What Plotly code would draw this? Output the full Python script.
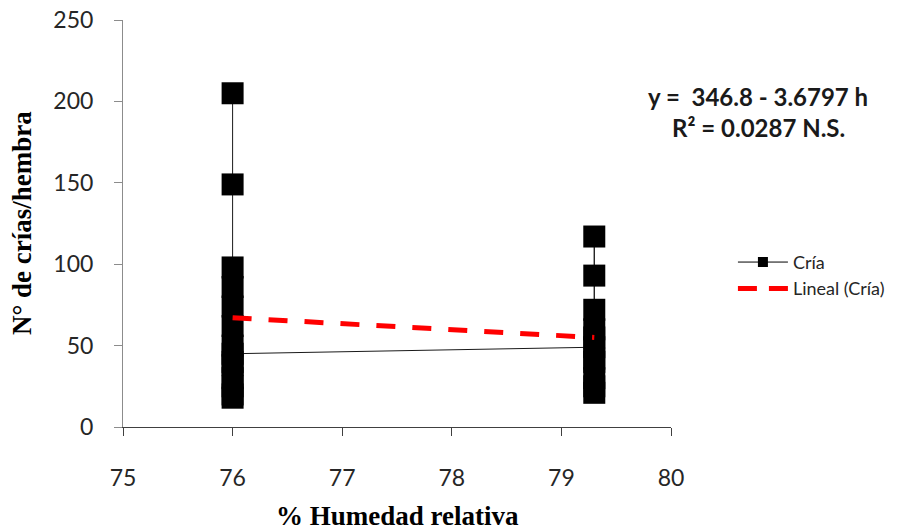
import plotly.graph_objects as go

# ---- data ----
humedad = [76, 76, 76, 76, 76, 76, 76, 76, 76, 76, 76, 76, 76, 76,
           79.3, 79.3, 79.3, 79.3, 79.3, 79.3, 79.3, 79.3, 79.3, 79.3, 79.3]
crias = [205, 149, 98, 86, 74, 62, 50, 40, 30, 20, 18, 25, 38, 45,
         49, 60, 72, 93, 117, 55, 40, 30, 21, 25, 42]

trend_intercept = 346.8
trend_slope = -3.6797
trend_x = [76, 79.3]
trend_y = [trend_intercept + trend_slope * h for h in trend_x]

x_ticks = [75, 76, 77, 78, 79, 80]
y_ticks = [0, 50, 100, 150, 200, 250]

TICK_FONT = dict(family="Lato, Carlito, sans-serif", size=23, color="#262626")

fig = go.Figure()

fig.add_trace(go.Scatter(
    x=humedad, y=crias, mode="lines+markers", name="Cría",
    line=dict(color="#1a1a1a", width=1),
    marker=dict(symbol="square", size=22, color="#000000"),
    showlegend=False,
))

fig.add_trace(go.Scatter(
    x=trend_x, y=trend_y, mode="lines", name="Lineal (Cría)",
    line=dict(color="#ff0000", width=5, dash="19px,17px"),
    showlegend=False,
))

# legend-only entries (smaller symbol like the reference legend)
fig.add_trace(go.Scatter(
    x=[None], y=[None], mode="lines+markers", name="Cría",
    line=dict(color="#000000", width=1),
    marker=dict(symbol="square", size=10, color="#000000"),
))
fig.add_trace(go.Scatter(
    x=[None], y=[None], mode="lines", name="Lineal (Cría)",
    line=dict(color="#ff0000", width=5, dash="19px,12px"),
))

fig.update_layout(
    width=898, height=532,
    margin=dict(l=115, r=235, t=12, b=113, autoexpand=False),
    paper_bgcolor="white", plot_bgcolor="white",
    showlegend=True,
    legend=dict(x=1.113, y=0.45, xanchor="left", yanchor="top",
                xref="paper", yref="paper",
                itemwidth=50,
                font=dict(family="Lato, Carlito, sans-serif", size=18, color="#262626"),
                bgcolor="rgba(0,0,0,0)", tracegroupgap=0),
    xaxis=dict(range=[75, 80], tickvals=x_ticks, ticktext=[str(v) for v in x_ticks],
               showgrid=False, zeroline=False, showline=True, linecolor="#404040",
               linewidth=1, ticks="outside", ticklen=8, tickcolor="#404040",
               tickfont=TICK_FONT, ticklabelstandoff=22, automargin=False,
               ticklabeloverflow="allow"),
    yaxis=dict(range=[0, 250], tickvals=y_ticks, ticktext=[str(v) for v in y_ticks],
               showgrid=False, zeroline=False, showline=True, linecolor="#8c8c8c",
               linewidth=1, ticks="outside", ticklen=8, tickcolor="#8c8c8c",
               tickfont=TICK_FONT, ticklabelstandoff=16, automargin=False,
               ticklabeloverflow="allow"),
    annotations=[
        dict(text="y =  346.8 - 3.6797 h", x=1.159, y=0.813, xref="paper", yref="paper",
             showarrow=False, xanchor="center", yanchor="middle",
             font=dict(family="Lato, Carlito, sans-serif", size=24, color="#1a1a1a", weight="bold")),
        dict(text="R² = 0.0287 N.S.", x=1.159, y=0.737, xref="paper", yref="paper",
             showarrow=False, xanchor="center", yanchor="middle",
             font=dict(family="Lato, Carlito, sans-serif", size=24, color="#1a1a1a", weight="bold")),
        dict(text="<b>% Humedad relativa</b>", x=0.5, y=-0.219, xref="paper", yref="paper",
             showarrow=False, xanchor="center", yanchor="middle",
             font=dict(family="Liberation Serif, Times New Roman, serif", size=27, color="#000000")),
        dict(text="<b>N° de crías/hembra</b>", x=-0.185, y=0.5, xref="paper", yref="paper",
             showarrow=False, xanchor="center", yanchor="middle", textangle=-90,
             font=dict(family="Liberation Serif, Times New Roman, serif", size=27, color="#000000")),
    ],
)

fig.write_html("out.html")
